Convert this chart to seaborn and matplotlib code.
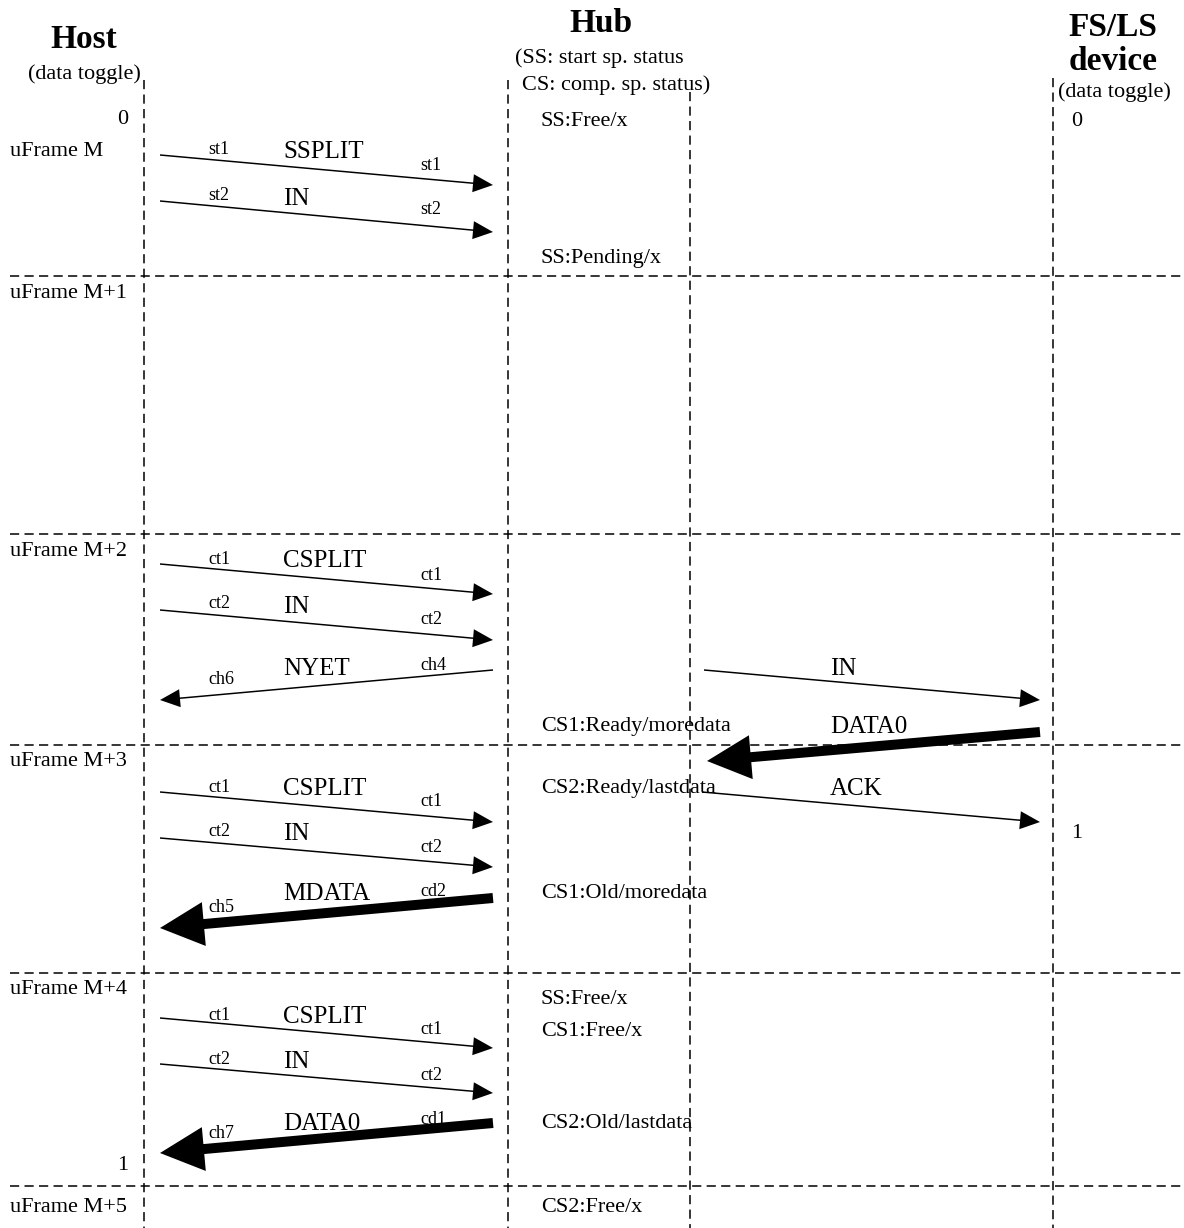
"""USB split transaction timing diagram (Host / Hub / FS-LS device)."""
import matplotlib

matplotlib.use("Agg")
import matplotlib.pyplot as plt
import pandas as pd
import seaborn as sns

# --------------------------------------------------------------------------- #
# Data (pixel space of the original drawing, y grows downwards)
# --------------------------------------------------------------------------- #
lifeline_x = [144, 508, 690, 1053]
lifeline_top = [80, 80, 92, 78]
frame_sep_y = [276, 534, 745, 973, 1186]

frame_names = ["uFrame M", "uFrame M+1", "uFrame M+2", "uFrame M+3",
               "uFrame M+4", "uFrame M+5"]
frame_name_y = [150, 291, 550, 760, 988, 1205]

# messages: start -> tip
msg_names = ["SSPLIT", "IN", "CSPLIT", "IN", "NYET", "IN", "DATA0",
             "CSPLIT", "IN", "ACK", "MDATA", "CSPLIT", "IN", "DATA0"]
msg_x0 = [160, 160, 160, 160, 493, 704, 1040, 160, 160, 702, 493, 160, 160, 493]
msg_y0 = [155, 201, 564, 610, 670, 670, 732, 792, 838, 792, 898, 1018, 1064, 1123]
msg_x1 = [493, 493, 493, 493, 160, 1040, 707, 493, 493, 1040, 160, 493, 493, 160]
msg_y1 = [185, 232, 594, 640, 700, 700, 761, 822, 867, 822, 928, 1048, 1093, 1153]
msg_thick = [False, False, False, False, False, False, True,
             False, False, False, True, False, False, True]
msg_name_x = [283, 283, 283, 283, 283, 830, 830, 283, 283, 830, 283, 283, 283, 283]
msg_name_y = [150, 197, 559, 605, 667, 667, 725, 787, 832, 787, 892, 1015, 1060, 1122]

# small per-transaction tags
tag_text = ["st1", "st1", "st2", "st2",
            "ct1", "ct1", "ct2", "ct2", "ch4", "ch6",
            "ct1", "ct1", "ct2", "ct2", "cd2", "ch5",
            "ct1", "ct1", "ct2", "ct2", "cd1", "ch7"]
tag_x = [208, 420, 208, 420,
         208, 420, 208, 420, 420, 208,
         208, 420, 208, 420, 420, 208,
         208, 420, 208, 420, 420, 208]
tag_y = [148, 163, 193, 208,
         557, 573, 602, 617, 663, 677,
         785, 800, 830, 845, 889, 905,
         1013, 1028, 1058, 1073, 1117, 1132]

# hub status notes
status_text = ["SS:Free/x", "SS:Pending/x", "CS1:Ready/moredata",
               "CS2:Ready/lastdata", "CS1:Old/moredata", "SS:Free/x",
               "CS1:Free/x", "CS2:Old/lastdata", "CS2:Free/x"]
status_y = [119, 256, 725, 786, 892, 998, 1030, 1122, 1205]

# data toggle values
toggle_text = ["0", "0", "1", "1"]
toggle_x = [123, 1077, 1077, 123]
toggle_y = [118, 119, 831, 1163]

# --------------------------------------------------------------------------- #
# Plot
# --------------------------------------------------------------------------- #
sns.set_theme(style="white")
plt.rcParams["font.family"] = ["Liberation Serif", "DejaVu Serif"]
plt.rcParams["text.color"] = "black"

W, H = 1184, 1228
DY = 2  # va="center" counts the descender, nudge text down a bit
fig = plt.figure(figsize=(W / 100, H / 100), dpi=100)
ax = fig.add_axes([0, 0, 1, 1])

# dashed lifelines + frame separators as one long table
rows = []
for i, (x, top) in enumerate(zip(lifeline_x, lifeline_top)):
    rows += [{"line": f"v{i}", "x": x, "y": top}, {"line": f"v{i}", "x": x, "y": H}]
for i, y in enumerate(frame_sep_y):
    rows += [{"line": f"h{i}", "x": 10, "y": y}, {"line": f"h{i}", "x": W, "y": y}]
grid = pd.DataFrame(rows)
sns.lineplot(data=grid, x="x", y="y", units="line", estimator=None, sort=False,
             color="black", linewidth=1.1, linestyle=(0, (6, 3.5)), ax=ax)

# arrows
for x0, y0, x1, y1, thick in zip(msg_x0, msg_y0, msg_x1, msg_y1, msg_thick):
    if thick:
        w, hw, hl = 10, 44, 44
    else:
        w, hw, hl = 1.5, 18, 20
    ax.arrow(x0, y0, x1 - x0, y1 - y0, width=w, head_width=hw, head_length=hl,
             length_includes_head=True, color="black", lw=0)

for name, x, y in zip(msg_names, msg_name_x, msg_name_y):
    ax.text(x, y + DY, name, fontsize=18, ha="left", va="center")
for t, x, y in zip(tag_text, tag_x, tag_y):
    ax.text(x, y + DY, t, fontsize=13, ha="left", va="center")
for t, y in zip(status_text, status_y):
    ax.text(541, y + DY, t, fontsize=16, ha="left", va="center")
for t, y in zip(frame_names, frame_name_y):
    ax.text(10, y + DY, t, fontsize=16, ha="left", va="center")
for t, x, y in zip(toggle_text, toggle_x, toggle_y):
    ax.text(x, y + DY, t, fontsize=16, ha="center", va="center")

# headers
ax.text(84, 37 + DY, "Host", fontsize=24, fontweight="bold", ha="center", va="center")
ax.text(84, 72 + DY, "(data toggle)", fontsize=16, ha="center", va="center")
ax.text(601, 21 + DY, "Hub", fontsize=24, fontweight="bold", ha="center", va="center")
ax.text(515, 56 + DY, "(SS: start sp. status", fontsize=16, ha="left", va="center")
ax.text(522, 83 + DY, "CS: comp. sp. status)", fontsize=16, ha="left", va="center")
ax.text(1113, 25 + DY, "FS/LS", fontsize=24, fontweight="bold", ha="center", va="center")
ax.text(1113, 60 + DY, "device", fontsize=24, fontweight="bold", ha="center", va="center")
ax.text(1114, 90 + DY, "(data toggle)", fontsize=16, ha="center", va="center")

ax.set_xlim(0, W)
ax.set_ylim(H, 0)
ax.axis("off")
fig.savefig("out.png", dpi=100, facecolor="white")
